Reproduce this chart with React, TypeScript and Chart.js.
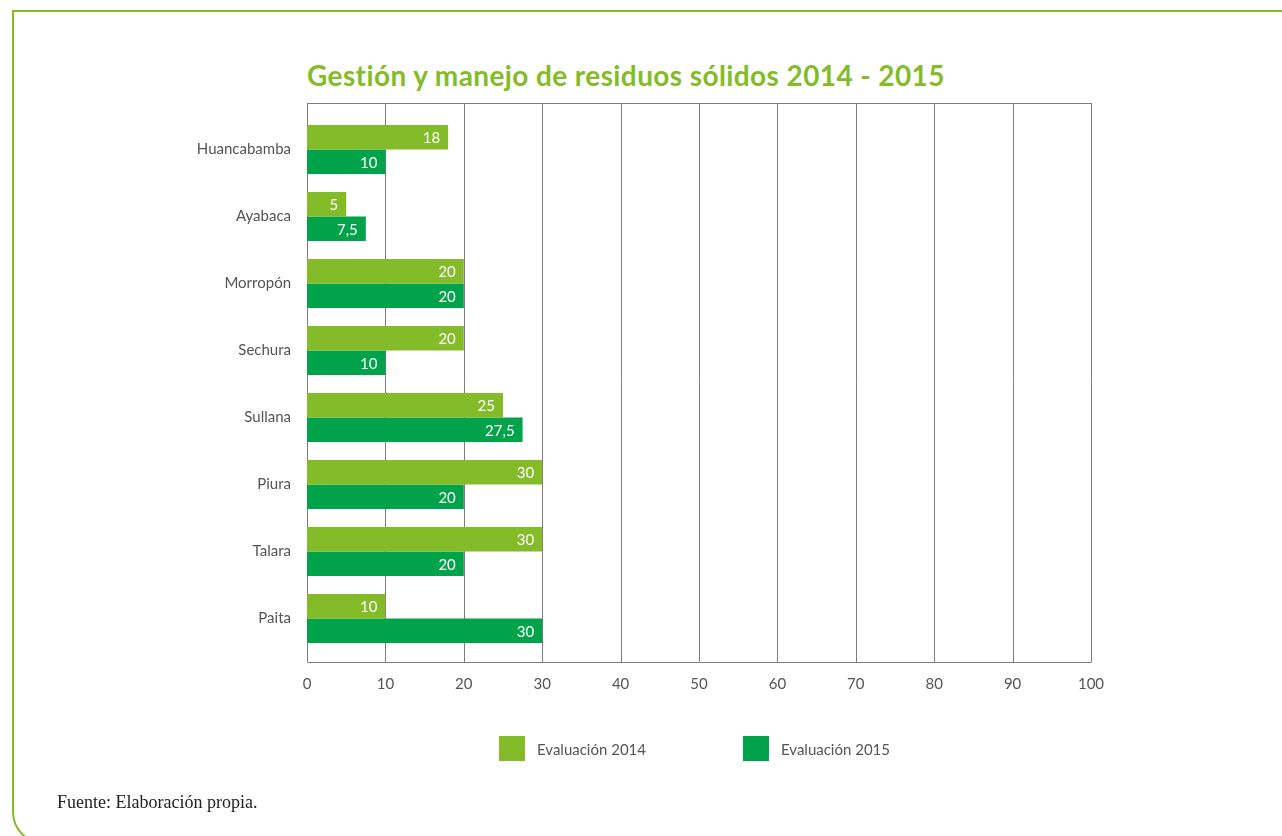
import React, { useEffect, useRef } from "react";
import { Chart, registerables } from "chart.js";

Chart.register(...registerables);

const categories = ["Huancabamba", "Ayabaca", "Morropón", "Sechura", "Sullana", "Piura", "Talara", "Paita"];
const values2014 = [18, 5, 20, 20, 25, 30, 30, 10];
const values2015 = [10, 7.5, 20, 10, 27.5, 20, 20, 30];
const seriesNames = ["Evaluación 2014", "Evaluación 2015"];
const xTicks = [0, 10, 20, 30, 40, 50, 60, 70, 80, 90, 100];

const LIGHT = "#84BB29";
const DARK = "#00A349";
const GRID = "#7d7d7d";
const TEXT = "#555555";
const FONT = "Lato, 'Noto Sans', sans-serif";

const fmt = (v: number) => String(v).replace(".", ",");

const gridPlugin = {
  id: "boxGrid",
  beforeDatasetsDraw(chart: any) {
    const { ctx, chartArea } = chart;
    const xs = chart.scales.x;
    const top = chartArea.top - 13;
    const bottom = chartArea.bottom + 10;
    ctx.save();
    ctx.strokeStyle = GRID;
    ctx.lineWidth = 1;
    ctx.beginPath();
    xTicks.forEach((t) => {
      const x = Math.round(xs.getPixelForValue(t)) + 0.5;
      ctx.moveTo(x, top);
      ctx.lineTo(x, bottom);
    });
    const l = Math.round(xs.getPixelForValue(0)) + 0.5;
    const r = Math.round(xs.getPixelForValue(100)) + 0.5;
    ctx.moveTo(l, Math.round(top) + 0.5);
    ctx.lineTo(r, Math.round(top) + 0.5);
    ctx.moveTo(l, Math.round(bottom) + 0.5);
    ctx.lineTo(r, Math.round(bottom) + 0.5);
    ctx.stroke();
    ctx.restore();
  },
};

const labelPlugin = {
  id: "barLabels",
  afterDatasetsDraw(chart: any) {
    const { ctx } = chart;
    ctx.save();
    ctx.fillStyle = "#ffffff";
    ctx.font = `15px ${FONT}`;
    ctx.textAlign = "right";
    ctx.textBaseline = "middle";
    chart.data.datasets.forEach((ds: any, di: number) => {
      const meta = chart.getDatasetMeta(di);
      meta.data.forEach((bar: any, i: number) => {
        ctx.fillText(fmt(ds.data[i]), bar.x - 8, bar.y + 1);
      });
    });
    ctx.restore();
  },
};

export default function App() {
  const ref = useRef<HTMLCanvasElement>(null);

  useEffect(() => {
    document.body.style.margin = "0";
    const chart = new Chart(ref.current!, {
      type: "bar",
      data: {
        labels: categories,
        datasets: [
          { label: seriesNames[0], data: values2014, backgroundColor: LIGHT, barPercentage: 1, categoryPercentage: 0.73 },
          { label: seriesNames[1], data: values2015, backgroundColor: DARK, barPercentage: 1, categoryPercentage: 0.73 },
        ],
      },
      options: {
        indexAxis: "y",
        animation: false,
        responsive: false,
        maintainAspectRatio: false,
        layout: { padding: { top: 116, left: 0, right: 191, bottom: 124 } },
        plugins: { legend: { display: false }, tooltip: { enabled: false }, title: { display: false } },
        scales: {
          x: {
            min: 0,
            max: 100,
            afterFit: (s: any) => { s.height = 60; },
            afterBuildTicks: (s: any) => { s.ticks = xTicks.map((v) => ({ value: v })); },
            grid: { display: false, drawTicks: false },
            border: { display: false },
            ticks: { color: TEXT, font: { family: FONT, size: 15 }, padding: 23 },
          },
          y: {
            afterFit: (s: any) => { s.width = 307; },
            grid: { display: false, drawTicks: false },
            border: { display: false },
            ticks: { color: TEXT, font: { family: FONT, size: 15 }, padding: 16 },
          },
        },
      },
      plugins: [gridPlugin, labelPlugin],
    });
    return () => chart.destroy();
  }, []);

  return (
    <div style={{ position: "relative", width: 1282, height: 836, overflow: "hidden", background: "#fff" }}>
      <div
        style={{
          position: "absolute",
          left: 12,
          top: 10,
          width: 1400,
          height: 834,
          border: `2.5px solid ${LIGHT}`,
          borderBottomLeftRadius: 32,
          boxSizing: "border-box",
        }}
      />
      <div
        style={{
          position: "absolute",
          left: 307,
          top: 58,
          fontFamily: FONT,
          fontWeight: 700,
          fontSize: 28,
          color: LIGHT,
          whiteSpace: "nowrap",
          letterSpacing: 0.4,
        }}
      >
        Gestión y manejo de residuos sólidos 2014 - 2015
      </div>
      <canvas ref={ref} width={1282} height={836} style={{ position: "absolute", left: 0, top: 0 }} />
      {[0, 1].map((i) => (
        <div key={i} style={{ position: "absolute", left: i === 0 ? 499 : 743, top: 736, display: "flex", alignItems: "center" }}>
          <div style={{ width: 26, height: 25, background: i === 0 ? LIGHT : DARK }} />
          <span style={{ marginLeft: 12, fontFamily: FONT, fontSize: 15, color: TEXT }}>{seriesNames[i]}</span>
        </div>
      ))}
      <div
        style={{
          position: "absolute",
          left: 57,
          top: 792,
          fontFamily: "'Liberation Serif', serif",
          fontSize: 18,
          color: "#222",
          whiteSpace: "nowrap",
        }}
      >
        Fuente: Elaboración propia.
      </div>
    </div>
  );
}
